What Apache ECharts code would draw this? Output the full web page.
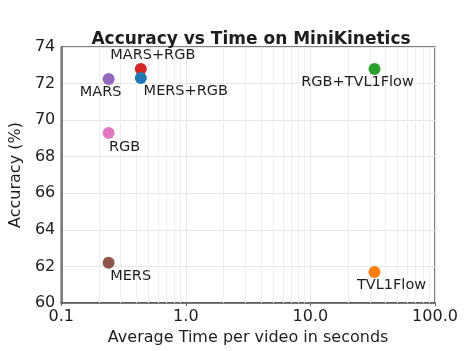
<!DOCTYPE html>
<html>
<head>
<meta charset="utf-8">
<script src="https://cdn.jsdelivr.net/npm/echarts@6/dist/echarts.min.js"></script>
<style>
html,body{margin:0;padding:0;background:#fff;}
#chart{width:474px;height:351px;}
</style>
</head>
<body>
<div id="chart"></div>
<script>
var chart = echarts.init(document.getElementById('chart'));

// data
var methods = ['MARS', 'MARS+RGB', 'MERS+RGB', 'RGB', 'MERS', 'RGB+TVL1Flow', 'TVL1Flow'];
var times = [0.24, 0.435, 0.435, 0.24, 0.24, 32.7, 32.7];
var accuracy = [72.25, 72.8, 72.3, 69.3, 62.2, 72.8, 61.7];
var colors = ['#9467bd', '#d62728', '#1f77b4', '#e377c2', '#8c564b', '#2ca02c', '#ff7f0e'];
var xTicks = [0.1, 1, 10, 100];
var yTicks = [60, 62, 64, 66, 68, 70, 72, 74];

// label offsets from the dot centre
var labelOffset = {
	'MARS': [-8, 13],
	'MARS+RGB': [12, -14],
	'MERS+RGB': [45, 13],
	'RGB': [16, 14],
	'MERS': [22, 13],
	'RGB+TVL1Flow': [-17, 13],
	'TVL1Flow': [17, 13]
};

var textColor = '#1e1e1e';
var font = 'DejaVu Sans';

// minor log grid lines (2..9 of every decade)
var minorLines = [];
for (var d = 0; d < xTicks.length - 1; d++) {
	for (var m = 2; m <= 9; m++) {
		minorLines.push({ xAxis: xTicks[d] * m });
	}
}

var points = [];
for (var i = 0; i < methods.length; i++) {
	points.push({
		name: methods[i],
		value: [times[i], accuracy[i]],
		itemStyle: { color: colors[i], opacity: 1 },
		label: {
			show: true,
			formatter: '{b}',
			position: 'inside',
			offset: labelOffset[methods[i]],
			color: textColor,
			fontFamily: font,
			fontSize: 14.5
		}
	});
}

var option = {
	backgroundColor: '#fff',
	animation: false,
	title: {
		text: 'Accuracy vs Time on MiniKinetics',
		left: 246,
		textAlign: 'center',
		top: 26,
		textStyle: { fontFamily: font, fontWeight: 'bold', fontSize: 17, color: textColor }
	},
	grid: {
		left: 58, right: 39, top: 47, bottom: 48,
		show: true,
		borderColor: '#555',
		borderWidth: 1.5,
		backgroundColor: '#fff'
	},
	xAxis: {
		type: 'log',
		logBase: 10,
		min: 0.1,
		max: 100,
		name: 'Average Time per video in seconds',
		nameLocation: 'middle',
		nameGap: 25,
		nameTextStyle: { fontFamily: font, fontSize: 16, color: textColor },
		axisLine: { show: true, lineStyle: { color: '#555', width: 1.5 } },
		axisTick: { show: true, length: 3, lineStyle: { color: '#666' } },
		axisLabel: {
			margin: 6,
			fontFamily: font,
			fontSize: 16,
			color: textColor,
			formatter: function (v) { return Number(v).toFixed(1); }
		},
		splitLine: { show: true, lineStyle: { color: '#e6e6e6' } }
	},
	yAxis: {
		type: 'value',
		min: yTicks[0],
		max: yTicks[yTicks.length - 1],
		interval: 2,
		name: 'Accuracy (%)',
		nameLocation: 'middle',
		nameGap: 31,
		nameTextStyle: { fontFamily: font, fontSize: 16, color: textColor },
		axisLine: { show: true, lineStyle: { color: '#555', width: 1.5 } },
		axisTick: { show: false },
		axisLabel: { margin: 6, fontFamily: font, fontSize: 16, color: textColor },
		splitLine: { show: true, lineStyle: { color: '#e6e6e6' } }
	},
	series: [{
		type: 'scatter',
		symbolSize: 12,
		data: points,
		markLine: {
			silent: true,
			symbol: 'none',
			label: { show: false },
			lineStyle: { color: '#efefef', width: 1, type: 'solid' },
			data: minorLines,
			z: 1
		}
	}]
};
chart.setOption(option);
window.onresize = chart.resize;
</script>
</body>
</html>
